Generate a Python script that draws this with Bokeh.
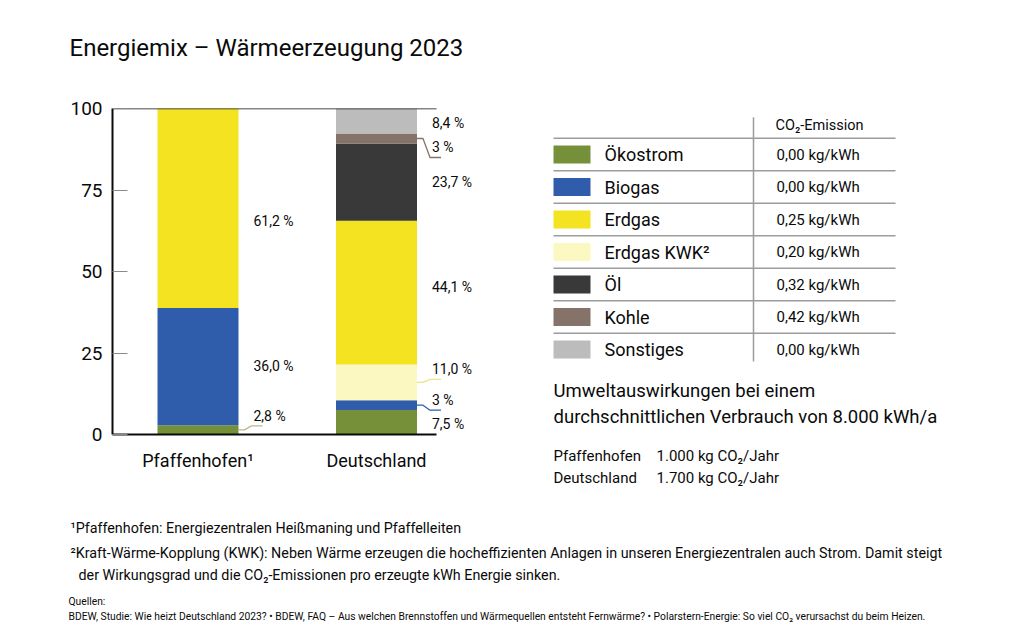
from bokeh.plotting import figure
from bokeh.layouts import column, row
from bokeh.models import Range1d, FixedTicker, ColumnDataSource, LabelSet
from bokeh.embed import file_html
from bokeh.resources import INLINE
from bokeh.core.properties import value

FONT = "Roboto"
INK = "#0a0a0a"

# ---------------- data ----------------
title_text = "Energiemix – Wärmeerzeugung 2023"
regions = ["Pfaffenhofen¹", "Deutschland"]
stack_order = ["Ökostrom", "Biogas", "Erdgas KWK", "Erdgas", "Öl", "Kohle", "Sonstiges"]
pf_values = [2.8, 36.0, 0.0, 61.2, 0.0, 0.0, 0.0]
de_values = [7.5, 3.0, 11.0, 44.1, 23.7, 3.0, 8.4]
pf_labels = ["2,8 %", "36,0 %", "", "61,2 %", "", "", ""]
de_labels = ["7,5 %", "3 %", "11,0 %", "44,1 %", "23,7 %", "3 %", "8,4 %"]
y_ticks = [0, 25, 50, 75, 100]
y_tick_labels = ["0", "25", "50", "75", "100"]

legend_keys = ["Ökostrom", "Biogas", "Erdgas", "Erdgas KWK", "Öl", "Kohle", "Sonstiges"]
legend_names = ["Ökostrom", "Biogas", "Erdgas", "Erdgas KWK²", "Öl", "Kohle", "Sonstiges"]
emissions = ["0,00 kg/kWh", "0,00 kg/kWh", "0,25 kg/kWh", "0,20 kg/kWh",
             "0,32 kg/kWh", "0,42 kg/kWh", "0,00 kg/kWh"]
emission_header = "CO₂-Emission"

impact_title = ["Umweltauswirkungen bei einem",
                "durchschnittlichen Verbrauch von 8.000 kWh/a"]
impact_regions = ["Pfaffenhofen", "Deutschland"]
impact_values = ["1.000 kg CO₂/Jahr", "1.700 kg CO₂/Jahr"]

footnote1 = "¹Pfaffenhofen: Energiezentralen Heißmaning und Pfaffelleiten"
footnote2a = ("²Kraft-Wärme-Kopplung (KWK): Neben Wärme erzeugen die hocheffizienten Anlagen "
              "in unseren Energiezentralen auch Strom. Damit steigt")
footnote2b = "der Wirkungsgrad und die CO₂-Emissionen pro erzeugte kWh Energie sinken."
sources_head = "Quellen:"
sources_text = ("BDEW, Studie: Wie heizt Deutschland 2023? • BDEW, FAQ – Aus welchen Brennstoffen "
                "und Wärmequellen entsteht Fernwärme? • Polarstern-Energie: So viel CO₂ "
                "verursachst du beim Heizen.")

# ---------------- style ----------------
colors = {
    "Ökostrom": "#76903a",
    "Biogas": "#2f5dab",
    "Erdgas": "#f4e321",
    "Erdgas KWK": "#fcf8c2",
    "Öl": "#3a393a",
    "Kohle": "#85736a",
    "Sonstiges": "#bcbcbc",
}
leader_colors = {"Ökostrom": "#b8bb8c", "Biogas": "#2f5dab",
                 "Erdgas KWK": "#efe38a", "Kohle": "#85736a"}
pf_dy = [-14, -1, 0, 13, 0, 0, 0]     # label shift in px (positive = down)
de_dy = [2, -5, -13, -6, 0, 9, 3]
leaders = [(0, 0), (1, 1), (1, 2), (1, 5)]  # (bar, segment)

TOTAL_W = 1016


def blank(width, height):
    f = figure(width=width, height=height, x_range=Range1d(0, width), y_range=Range1d(height, 0),
               min_border=0, x_axis_type=None, y_axis_type=None, toolbar_location=None,
               output_backend="svg", frame_align=False)
    f.outline_line_color = None
    f.grid.visible = False
    return f


# ---------------- title ----------------
TH = 70
t = blank(TOTAL_W, TH)
t.text(x=[69], y=[47], text=[title_text], text_font=value(FONT), text_font_size="24px",
       text_baseline="middle", text_color=INK)

# ---------------- chart ----------------
A_W, A_H = 528, 420
BL, BT = 112, 38
FW = A_W - BL
FH = 326
spacing_px = 178.5
bar_px = 81
first_center_px = 85.5
chart_px = 324
x0 = -first_center_px / spacing_px
x1 = x0 + FW / spacing_px
x_end = x0 + chart_px / spacing_px
bw = bar_px / spacing_px
ppx = spacing_px
ppy = FH / 100.0

p = figure(width=A_W, height=A_H, x_range=Range1d(x0, x1), y_range=Range1d(0, 100),
           min_border_left=BL, min_border_right=0,
           min_border_top=BT, min_border_bottom=A_H - BT - FH,
           toolbar_location=None, output_backend="svg", frame_align=False)
p.outline_line_color = None
p.grid.visible = False

keys = [f"s{i}" for i in range(len(stack_order))]
data = {"x": [0, 1]}
for i, k in enumerate(keys):
    data[k] = [pf_values[i], de_values[i]]
src = ColumnDataSource(data)
p.vbar_stack(keys, x="x", width=bw, source=src,
             fill_color=[colors[n] for n in stack_order], line_color=None)

# value labels
lx, ly, lt = [], [], []
mids = []
for bi, (vals, labs, dys) in enumerate([(pf_values, pf_labels, pf_dy), (de_values, de_labels, de_dy)]):
    cum = 0.0
    bm = []
    for v, lab, dy in zip(vals, labs, dys):
        mid = cum + v / 2.0
        bm.append(mid)
        if lab:
            lx.append(bi + bw / 2)
            ly.append(mid - dy / ppy)
            lt.append(lab)
        cum += v
    mids.append(bm)
lsrc = ColumnDataSource(dict(x=lx, y=ly, text=lt))
p.add_layout(LabelSet(x="x", y="y", text="text", source=lsrc, x_offset=15,
                      text_baseline="middle", text_font=value(FONT),
                      text_font_size="14px", text_color=INK))

# leader lines
xs, ys, lc = [], [], []
for bi, si in leaders:
    dys = pf_dy if bi == 0 else de_dy
    mid = mids[bi][si]
    bx = bi + bw / 2
    endy = mid - (dys[si] + 10) / ppy
    xs.append([bx, bx + 6 / ppx, bx + 13 / ppx, bx + 24 / ppx])
    ys.append([mid, mid, endy, endy])
    lc.append(leader_colors[stack_order[si]])
p.multi_line(xs=xs, ys=ys, line_color=lc, line_width=1.3)

# top line at 100
p.segment(x0=[x0], y0=[100], x1=[x_end], y1=[100], line_color=INK, line_width=1.3)

p.yaxis.ticker = FixedTicker(ticks=y_ticks)
p.yaxis.major_label_overrides = {v: s for v, s in zip(y_ticks, y_tick_labels)}
p.yaxis.axis_line_width = 2
p.yaxis.axis_line_color = INK
p.yaxis.major_tick_in = 15
p.yaxis.major_tick_out = 0
p.yaxis.major_tick_line_color = "#8a8a8a"
p.yaxis.minor_tick_line_color = None
p.yaxis.major_label_text_font = FONT
p.yaxis.major_label_text_font_size = "19px"
p.yaxis.major_label_text_color = INK
p.yaxis.major_label_standoff = 10

p.xaxis.ticker = FixedTicker(ticks=[0, 1])
p.xaxis.bounds = (x0, x_end)
p.xaxis.major_label_overrides = {0: regions[0], 1: regions[1]}
p.xaxis.axis_line_width = 2
p.xaxis.axis_line_color = INK
p.xaxis.major_tick_line_color = None
p.xaxis.minor_tick_line_color = None
p.xaxis.major_label_text_font = FONT
p.xaxis.major_label_text_font_size = "18px"
p.xaxis.major_label_text_color = INK
p.xaxis.major_label_standoff = 9

# ---------------- legend table & impact ----------------
B_W, B_H = TOTAL_W - A_W, A_H
b = blank(B_W, B_H)

row0, rh = 84.0, 32.5
n = len(legend_keys)
rows_y = [row0 + i * rh for i in range(n)]
tab_l, tab_r, sw_w, sw_h = 25, 367, 37, 18
col_x = 225
line_col = "#9c9c9c"

b.rect(x=[tab_l + sw_w / 2] * n, y=rows_y, width=sw_w, height=sw_h,
       fill_color=[colors[k] for k in legend_keys], line_color=None)
b.text(x=[76] * n, y=rows_y, text=legend_names, text_font=value(FONT), text_font_size="18px",
       text_baseline="middle", text_color=INK)
b.text(x=[248] * n, y=rows_y, text=emissions, text_font=value(FONT), text_font_size="15px",
       text_baseline="middle", text_color=INK)
b.text(x=[291], y=[row0 - rh * 0.9], text=[emission_header], text_font=value(FONT),
       text_font_size="14.5px", text_baseline="middle", text_align="center", text_color=INK)
hy = [row0 - rh / 2 + i * rh for i in range(n)]
b.segment(x0=[tab_l] * n, y0=hy, x1=[tab_r] * n, y1=hy, line_color=line_col, line_width=1.5)
b.segment(x0=[col_x], y0=[row0 - rh * 1.15], x1=[col_x], y1=[rows_y[-1] + rh * 0.37],
          line_color=line_col, line_width=1.5)

b.text(x=[25, 25], y=[320, 346], text=impact_title, text_font=value(FONT), text_font_size="18.5px",
       text_baseline="middle", text_color=INK)
b.text(x=[25, 25], y=[385, 407], text=impact_regions, text_font=value(FONT), text_font_size="15px",
       text_baseline="middle", text_color=INK)
b.text(x=[128, 128], y=[385, 407], text=impact_values, text_font=value(FONT), text_font_size="15px",
       text_baseline="middle", text_color=INK)

# ---------------- footnotes ----------------
C_H = 634 - TH - A_H
c = blank(TOTAL_W, C_H)
c.text(x=[70, 70, 78], y=[37, 62, 84], text=[footnote1, footnote2a, footnote2b],
       text_font=value(FONT), text_font_size="14.3px", text_baseline="middle", text_color=INK)
c.text(x=[68, 68], y=[111, 126], text=[sources_head, sources_text], text_font=value(FONT),
       text_font_size="10.3px", text_baseline="middle", text_color=INK)

layout = column(t, row(p, b), c)
open("out.html", "w").write(file_html(layout, INLINE))
